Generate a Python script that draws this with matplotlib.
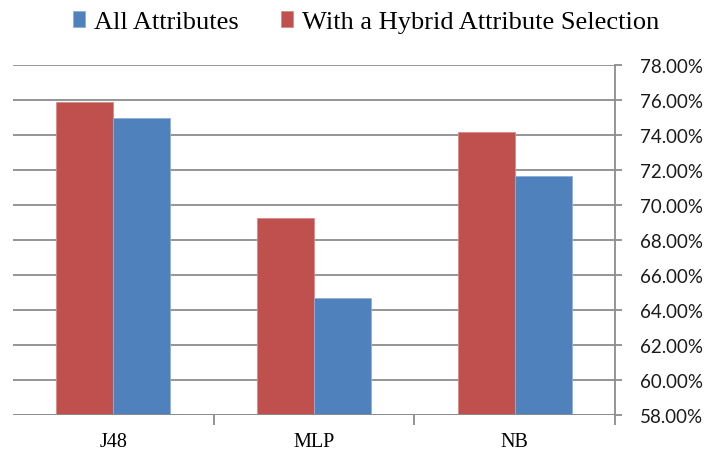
import numpy as np
import matplotlib
matplotlib.use("Agg")
import matplotlib.pyplot as plt
from matplotlib.ticker import FuncFormatter

classifiers = ["J48", "MLP", "NB"]
all_attributes = [74.95, 64.67, 71.66]
hybrid_selection = [75.89, 69.26, 74.13]

RED = "#C0504D"
BLUE = "#4F81BD"
GRID = "#8C8C8C"

fig = plt.figure(figsize=(7.06, 4.60), dpi=100)
ax = fig.add_axes([13 / 706, 1 - 416 / 460, (615 - 13) / 706, (416 - 65.7) / 460])

x = np.arange(len(classifiers))
w = 0.284
b_red = ax.bar(x - w / 2, [v - 58 for v in hybrid_selection], w, bottom=58,
               color=RED, edgecolor="#D88A88", linewidth=0.6, zorder=3,
               label="With a Hybrid Attribute Selection")
b_blue = ax.bar(x + w / 2, [v - 58 for v in all_attributes], w, bottom=58,
                color=BLUE, edgecolor="#8FB0DA", linewidth=0.6, zorder=3,
                label="All Attributes")

ax.set_xlim(-0.5, 2.5)
ax.set_ylim(58, 78)
ax.set_yticks(np.arange(58, 78.01, 2))
ax.yaxis.set_major_formatter(FuncFormatter(lambda v, p: f"{v:.2f}%"))
ax.yaxis.tick_right()
ax.grid(axis="y", color=GRID, linewidth=1.3, zorder=0)

for s in ["left", "top", "bottom"]:
    ax.spines[s].set_visible(False)
ax.spines["right"].set_color(GRID)
ax.spines["right"].set_linewidth(1.3)

ax.tick_params(axis="y", direction="out", length=5, width=1.3, color=GRID,
               pad=13, labelsize=13.5, labelfontfamily="Lato", labelcolor="#1a1a1a")

# category boundaries as ticks on the bottom, labels in between
ax.set_xticks([0.5, 1.5, 2.5])
ax.set_xticks(x, minor=True)
ax.set_xticklabels([])
ax.set_xticklabels(classifiers, minor=True, fontfamily="Liberation Serif", fontsize=14.5)
ax.tick_params(axis="x", which="major", direction="out", length=7, width=1.3, color=GRID)
ax.tick_params(axis="x", which="minor", length=0, pad=12)
ax.axhline(58, color=GRID, linewidth=1.3, zorder=4)

fig.legend([b_blue, b_red], ["All Attributes", "With a Hybrid Attribute Selection"],
           loc="center", bbox_to_anchor=(366 / 706, 1 - 23 / 460), ncol=2, frameon=False,
           prop={"family": "Liberation Serif", "size": 19}, handlelength=0.45,
           handleheight=0.55, handletextpad=0.34, columnspacing=1.6)

fig.savefig("out.png", dpi=100)
